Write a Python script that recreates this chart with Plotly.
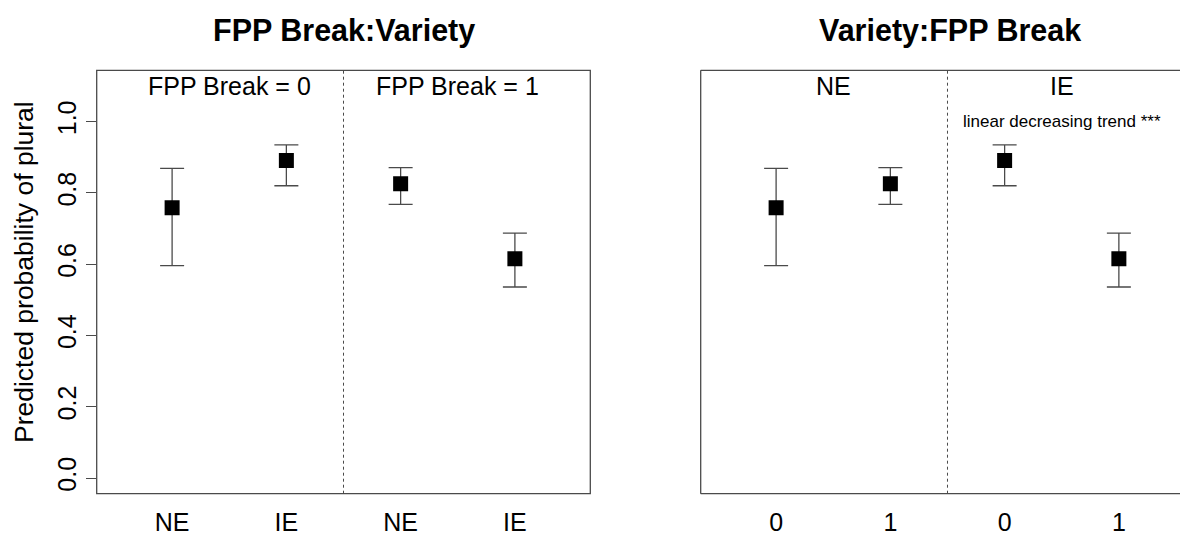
import plotly.graph_objects as go

# Predicted probability of plural with confidence intervals
# Left panel: grouped by FPP Break, then Variety
left_ticks = ["NE", "IE", "NE", "IE"]
left_est = [0.758, 0.891, 0.826, 0.615]
left_lo = [0.596, 0.820, 0.768, 0.536]
left_hi = [0.869, 0.935, 0.871, 0.687]

# Right panel: grouped by Variety, then FPP Break
right_ticks = ["0", "1", "0", "1"]
right_est = [0.758, 0.826, 0.891, 0.615]
right_lo = [0.596, 0.768, 0.820, 0.536]
right_hi = [0.869, 0.871, 0.935, 0.687]

left_groups = ["FPP Break = 0", "FPP Break = 1"]
right_groups = ["NE", "IE"]
right_note = "linear decreasing trend ***"

y_ticks = [0.0, 0.2, 0.4, 0.6, 0.8, 1.0]

W, H = 1180, 540
FONT = "Liberation Sans, Arial, Helvetica, sans-serif"
LINE = "#4a4a4a"

pos = list(range(1, len(left_est) + 1))


def errbars(est, lo, hi):
    return dict(
        type="data",
        symmetric=False,
        array=[h - e for h, e in zip(hi, est)],
        arrayminus=[e - l for e, l in zip(est, lo)],
        color=LINE,
        thickness=1.3,
        width=12,
    )


fig = go.Figure()
fig.add_trace(go.Scatter(
    x=pos, y=left_est, mode="markers", xaxis="x", yaxis="y",
    marker=dict(symbol="square", size=15, color="black", line=dict(width=0)),
    error_y=errbars(left_est, left_lo, left_hi), showlegend=False,
))
fig.add_trace(go.Scatter(
    x=pos, y=right_est, mode="markers", xaxis="x2", yaxis="y2",
    marker=dict(symbol="square", size=15, color="black", line=dict(width=0)),
    error_y=errbars(right_est, right_lo, right_hi), showlegend=False,
))

y_dom = [1 - 493.7 / H, 1 - 70.3 / H]
y_rng = [-0.044, 1.144]

fig.update_layout(
    width=W, height=H,
    margin=dict(l=0, r=0, t=0, b=0),
    paper_bgcolor="white", plot_bgcolor="white",
    font=dict(family=FONT, color="black", size=25),
    xaxis=dict(
        domain=[96.7 / W, 590.3 / W], range=[0.34, 4.66],
        tickvals=pos, ticktext=left_ticks, ticks="outside", ticklen=6,
        tickcolor="rgba(0,0,0,0)", showgrid=False, zeroline=False,
        showline=False, tickfont=dict(size=25),
    ),
    yaxis=dict(
        domain=y_dom, range=y_rng, tickvals=y_ticks,
        ticktext=[f"{v:.1f}" for v in y_ticks], tickangle=-90,
        ticks="outside", ticklen=10, tickcolor=LINE, tickwidth=1.3,
        showgrid=False, zeroline=False, showline=False,
        tickfont=dict(size=25),
    ),
    xaxis2=dict(
        domain=[700.7 / W, 1.0], range=[0.34, 4.535], anchor="y2",
        tickvals=pos, ticktext=right_ticks, ticks="outside", ticklen=6,
        tickcolor="rgba(0,0,0,0)", showgrid=False, zeroline=False,
        showline=False, tickfont=dict(size=25),
    ),
    yaxis2=dict(
        domain=y_dom, range=y_rng, anchor="x2", showticklabels=False,
        ticks="", showgrid=False, zeroline=False, showline=False,
    ),
)

shapes = []
# frame of the left panel
shapes.append(dict(type="rect", xref="x domain", yref="y domain",
                   x0=0, x1=1, y0=0, y1=1, line=dict(color=LINE, width=1.3)))
# frame of the right panel (right edge runs off the page)
for x0, y0, x1, y1 in [(0, 0, 1, 0), (0, 1, 1, 1), (0, 0, 0, 1)]:
    shapes.append(dict(type="line", xref="x2 domain", yref="y2 domain",
                       x0=x0, y0=y0, x1=x1, y1=y1,
                       line=dict(color=LINE, width=1.3)))
# dotted separators between groups
for xr, yr in [("x", "y domain"), ("x2", "y2 domain")]:
    shapes.append(dict(type="line", xref=xr, yref=yr, x0=2.5, x1=2.5,
                       y0=0, y1=1, line=dict(color=LINE, width=1, dash="dot")))
fig.update_layout(shapes=shapes)

ann = []
# panel titles
ann.append(dict(text="<b>FPP Break:Variety</b>", xref="paper", yref="paper",
                x=343.5 / W, y=1 - 31 / H, showarrow=False,
                xanchor="center", yanchor="middle", font=dict(size=30.5)))
ann.append(dict(text="<b>Variety:FPP Break</b>", xref="paper", yref="paper",
                x=950 / W, y=1 - 31 / H, showarrow=False,
                xanchor="center", yanchor="middle", font=dict(size=30.5)))
# group labels
for i, g in enumerate(left_groups):
    ann.append(dict(text=g, xref="x", yref="y", x=1.5 + 2 * i, y=1.1,
                    showarrow=False, xanchor="center", yanchor="middle",
                    font=dict(size=25)))
for i, g in enumerate(right_groups):
    ann.append(dict(text=g, xref="x2", yref="y2", x=1.5 + 2 * i, y=1.1,
                    showarrow=False, xanchor="center", yanchor="middle",
                    font=dict(size=25)))
ann.append(dict(text=right_note, xref="x2", yref="y2", x=3.5, y=1.0,
                showarrow=False, xanchor="center", yanchor="middle",
                font=dict(size=17)))
# y-axis title
ann.append(dict(text="Predicted probability of plural", xref="paper",
                yref="paper", x=24 / W, y=1 - 272 / H,
                textangle=-90, showarrow=False, xanchor="center",
                yanchor="middle", font=dict(size=26.5)))
fig.update_layout(annotations=ann)

fig.write_html("out.html")
